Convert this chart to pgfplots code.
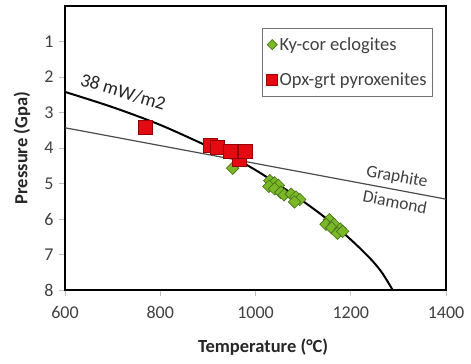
\documentclass[border=0pt]{standalone}
\usepackage{fontspec}
\setmainfont{Carlito}
\usepackage{pgfplots}
\pgfplotsset{compat=1.18}
\definecolor{kygreen}{RGB}{122,184,40}
\definecolor{kygreendark}{RGB}{70,110,25}
\definecolor{opxred}{RGB}{228,10,18}
\definecolor{opxreddark}{RGB}{150,0,0}
\definecolor{txtgray}{RGB}{64,64,64}
\begin{document}
\begin{tikzpicture}
\begin{axis}[name=ax, scale only axis, width=381pt, height=284pt,
  xmin=600, xmax=1400, ymin=0, ymax=8, y dir=reverse,
  xtick={600,800,...,1400}, ytick={1,...,8},
  axis line style={line width=1.8pt, black},
  tick pos=left, tick align=outside, major tick length=6pt,
  tick style={black!25, line width=0.8pt},
  /pgf/number format/assume math mode=true, /pgf/number format/1000 sep={},
  ticklabel style={font=\fontsize{18}{21}\selectfont, text=txtgray},
  xticklabel style={yshift=-7pt},
  yticklabel style={xshift=-2pt},
  xlabel={\textbf{Temperature (°C)}},
  ylabel={\textbf{Pressure (Gpa)}},
  label style={font=\fontsize{18.5}{21}\selectfont, text=black!85},
  xlabel style={at={(axis description cs:0.52,-0.2007)}, anchor=center},
  ylabel style={at={(axis description cs:-0.113,0.5)}, anchor=center},
  legend style={at={(axis description cs:0.966,0.9225)}, anchor=north east,
    draw=black!55, line width=0.9pt, font=\fontsize{18.5}{21}\selectfont,
    text=txtgray, inner xsep=4pt, inner ysep=7pt, row sep=17pt,
    legend cell align=left},
  legend image code/.code={\draw[mark repeat=2,mark phase=2,#1] plot coordinates {(0cm,0cm)(0.17cm,0cm)(0.34cm,0cm)};},
  clip=true,
]
% Ky-cor eclogites
\addplot[only marks, mark=square*, mark size=4.4pt,
  mark options={rotate=45, fill=kygreen, draw=kygreendark, line width=0.6pt}, forget plot]
  coordinates {
  (952,4.57)
  (1030,4.92) (1040,4.98) (1048,5.05) (1028,5.08) (1040,5.15)
  (1053,5.25) (1060,5.32) (1075,5.30) (1085,5.38) (1093,5.45) (1082,5.52)
  (1155,6.02) (1148,6.15) (1165,6.15) (1160,6.25) (1178,6.28) (1172,6.40) (1183,6.35)
  };
% Opx-grt pyroxenites
\addplot[only marks, mark=square*, mark size=7pt,
  mark options={fill=opxred, draw=opxreddark, line width=0.6pt}, forget plot]
  coordinates {
  (768,3.42) (965,4.33) (906,3.92) (920,3.99) (948,4.10) (978,4.10)
  };
% graphite-diamond
\addplot[black!70, line width=1.2pt, forget plot] coordinates {(600,3.43) (1400,5.44)};
% geotherm
\addplot[black, line width=2pt, smooth, forget plot] coordinates {
  (600,2.42) (700,2.85) (800,3.35) (900,3.95) (950,4.25) (1000,4.62)
  (1050,5.05) (1100,5.50) (1150,6.00) (1200,6.58) (1240,7.10) (1265,7.50) (1288,8.00)
};
\addlegendimage{only marks, mark=square*, mark size=3.6pt, mark options={rotate=45, fill=kygreen, draw=kygreendark, line width=0.6pt}}
\addlegendentry{Ky-cor eclogites}
\addlegendimage{only marks, mark=square*, mark size=5.5pt, mark options={fill=opxred, draw=opxreddark, line width=0.6pt}}
\addlegendentry{Opx-grt pyroxenites}
\node[rotate=-17, font=\fontsize{19}{21}\selectfont, text=black!85] at (axis cs:722,2.42) {38 mW/m2};
\node[rotate=-10.6, font=\fontsize{17.5}{20}\selectfont, text=txtgray] at (axis cs:1297,4.82) {Graphite};
\node[rotate=-10.6, font=\fontsize{17.5}{20}\selectfont, text=txtgray] at (axis cs:1293,5.52) {Diamond};
\end{axis}
\path ([shift={(-65pt,-73pt)}]ax.south west) rectangle ([shift={(25pt,6pt)}]ax.north east);
\end{tikzpicture}
\end{document}
